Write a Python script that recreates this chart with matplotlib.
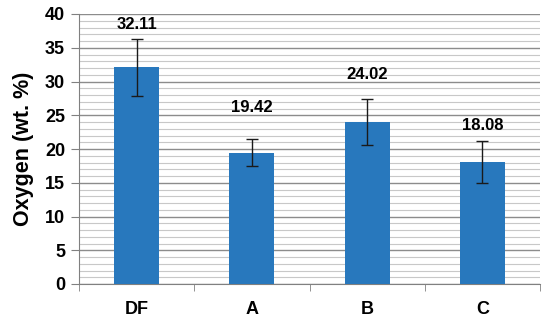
import matplotlib.pyplot as plt
from matplotlib.ticker import MultipleLocator, FixedLocator

categories = ["DF", "A", "B", "C"]
oxygen = [32.11, 19.42, 24.02, 18.08]
errors = [4.2, 2.0, 3.4, 3.05]
# gap between error bar top and value label centre (labels were placed by hand)
label_gap = [2.1, 4.7, 3.6, 2.3]

fig = plt.figure(figsize=(5.5, 3.21), dpi=100)
ax = fig.add_axes([79 / 550, 1 - 284 / 321, 461 / 550, 270 / 321])

x = range(len(categories))
ax.bar(x, oxygen, width=0.39, color="#2878bd", zorder=3)
ax.errorbar(x, oxygen, yerr=errors, fmt="none", ecolor="#1a1a1a",
            elinewidth=1.0, capsize=4, capthick=1.0, zorder=4)

for xi, v, e, g in zip(x, oxygen, errors, label_gap):
    ax.text(xi, v + e + g, f"{v:.2f}", ha="center", va="center",
            fontsize=12, fontweight="bold", family="Liberation Sans")

ax.set_xlim(-0.5, len(categories) - 0.5)
ax.set_ylim(0, 40)
ax.yaxis.set_major_locator(MultipleLocator(5))
ax.yaxis.set_minor_locator(MultipleLocator(1))
ax.grid(axis="y", which="major", color="#8c8c8c", linewidth=1.0, zorder=0)
ax.grid(axis="y", which="minor", color="#c8c8c8", linewidth=0.8, zorder=0)

ax.set_xticks(list(x))
ax.set_xticklabels(categories)
ax.xaxis.set_minor_locator(FixedLocator([i - 0.5 for i in range(len(categories) + 1)]))
ax.tick_params(axis="x", which="major", length=0, pad=12)
ax.tick_params(axis="x", which="minor", length=5, color="#808080")
ax.tick_params(axis="y", which="major", length=6, color="#808080", pad=4)
ax.tick_params(axis="y", which="minor", length=0)

for lab in ax.get_xticklabels() + ax.get_yticklabels():
    lab.set_fontweight("bold")
    lab.set_fontsize(13)
    lab.set_family("Liberation Sans")

for side in ["top", "right"]:
    ax.spines[side].set_visible(False)
for side in ["left", "bottom"]:
    ax.spines[side].set_color("#808080")

ax.set_ylabel("Oxygen (wt. %)", fontsize=15.5, fontweight="bold",
              family="Liberation Sans", labelpad=8)

fig.savefig("out.png", dpi=100)
